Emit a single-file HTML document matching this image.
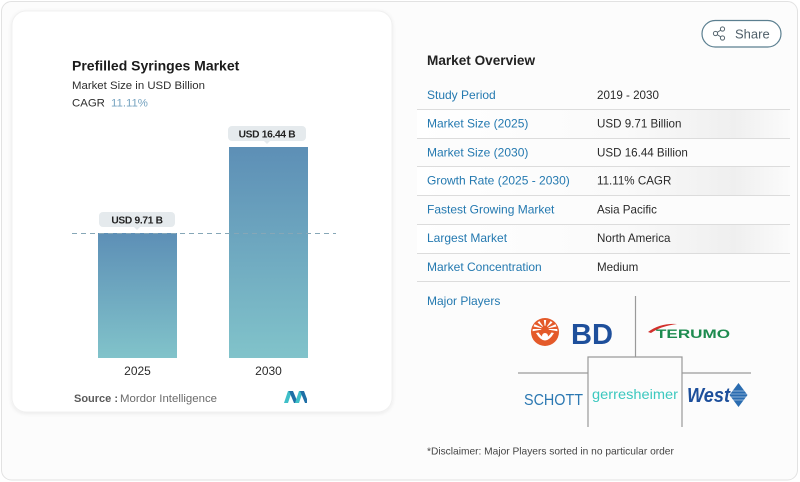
<!DOCTYPE html>
<html>
<head>
<meta charset="utf-8">
<style>
html,body{margin:0;padding:0;background:#fff;}
body{width:800px;height:482px;overflow:hidden;}
svg{display:block;font-family:"Liberation Sans",Arial,sans-serif;}
</style>
</head>
<body>
<svg width="800" height="482" viewBox="0 0 800 482" xmlns="http://www.w3.org/2000/svg">
  <defs>
    <linearGradient id="bar" x1="0" y1="0" x2="0" y2="1">
      <stop offset="0" stop-color="#5d8fb6"/>
      <stop offset="1" stop-color="#81c3ca"/>
    </linearGradient>
    <linearGradient id="rowsh" x1="417" y1="0" x2="790" y2="0" gradientUnits="userSpaceOnUse">
      <stop offset="0" stop-color="#ffffff"/>
      <stop offset="0.55" stop-color="#fafafa"/>
      <stop offset="0.85" stop-color="#efefef"/>
      <stop offset="1" stop-color="#fbfbfb"/>
    </linearGradient>
    <filter id="sh" x="-5%" y="-5%" width="110%" height="110%">
      <feGaussianBlur in="SourceAlpha" stdDeviation="2"/>
      <feOffset dy="1"/>
      <feComponentTransfer><feFuncA type="linear" slope="0.08"/></feComponentTransfer>
      <feMerge><feMergeNode/><feMergeNode in="SourceGraphic"/></feMerge>
    </filter>
  </defs>

  <!-- outer card -->
  <rect x="1.5" y="1.5" width="796" height="478.5" rx="10" fill="#fcfcfc" stroke="#e2e2e2" stroke-width="1"/>

  <!-- inner chart card -->
  <rect x="12" y="11" width="380" height="401" rx="14" fill="#ffffff" stroke="#f0f0f0" filter="url(#sh)"/>

  <!-- title -->
  <text x="72" y="70.5" font-size="14" font-weight="bold" fill="#1b1b1b">Prefilled Syringes Market</text>
  <text x="72" y="89" font-size="11.4" fill="#2e2e2e">Market Size in USD Billion</text>
  <text x="72" y="106.5" font-size="11.4" fill="#2e2e2e">CAGR <tspan x="111" fill="#76a3c0">11.11%</tspan></text>

  <!-- bars -->
  <rect x="98" y="233" width="79" height="125" fill="url(#bar)"/>
  <rect x="229" y="147" width="79" height="211" fill="url(#bar)"/>

  <!-- dashed line -->
  <line x1="72" y1="233.5" x2="336" y2="233.5" stroke="#86a7b7" stroke-width="1" stroke-dasharray="5,4"/>

  <!-- value pills -->
  <rect x="99" y="212" width="76" height="15" rx="4" fill="#e5eaed"/>
  <polygon points="134,227 140,227 137,230" fill="#e5eaed"/>
  <text x="137" y="223.5" font-size="10.2" font-weight="bold" fill="#222" text-anchor="middle" letter-spacing="-0.3">USD 9.71 B</text>

  <rect x="228" y="126" width="78" height="15" rx="4" fill="#e5eaed"/>
  <polygon points="264,141 270,141 267,144" fill="#e5eaed"/>
  <text x="267" y="137.5" font-size="10.2" font-weight="bold" fill="#222" text-anchor="middle" letter-spacing="-0.3">USD 16.44 B</text>

  <!-- years -->
  <text x="137.5" y="375" font-size="12" fill="#2b2b2b" text-anchor="middle">2025</text>
  <text x="268.5" y="375" font-size="12" fill="#2b2b2b" text-anchor="middle">2030</text>

  <!-- source -->
  <text x="74" y="402" font-size="11" font-weight="bold" fill="#5a5a5a">Source :</text>
  <text x="120" y="402" font-size="11" fill="#6a6a6a" textLength="97" lengthAdjust="spacingAndGlyphs">Mordor Intelligence</text>
  <!-- mordor logo -->
  <polygon points="284,403 288,391 292,391 288,403" fill="#3fbfc8"/>
  <polygon points="289,391 293,391 298,403 294,403" fill="#1f6fa6"/>
  <polygon points="295,403 299,391 303,391 299,403" fill="#3fbfc8"/>
  <polygon points="300,391 304,391 307,399 307,403 305,403" fill="#1f6fa6"/>

  <!-- share button -->
  <rect x="702" y="20.5" width="79" height="26.5" rx="13.25" fill="#fff" stroke="#5b7f90" stroke-width="1.2"/>
  <g stroke="#56666f" stroke-width="1" fill="#fff">
    <line x1="715.5" y1="33.5" x2="722.5" y2="29"/>
    <line x1="715.5" y1="33.5" x2="722.5" y2="38"/>
    <circle cx="715.5" cy="33.5" r="2.1"/>
    <circle cx="722.5" cy="29" r="2.1"/>
    <circle cx="722.5" cy="38" r="2.1"/>
  </g>
  <text x="735" y="38.5" font-size="13" fill="#4f5f69">Share</text>

  <!-- market overview -->
  <text x="427" y="65" font-size="13.6" font-weight="bold" fill="#222">Market Overview</text>

  <!-- shaded rows -->
  <rect x="417" y="110" width="373" height="28" fill="url(#rowsh)"/>
  <rect x="417" y="167" width="373" height="28" fill="url(#rowsh)"/>
  <rect x="417" y="225" width="373" height="28" fill="url(#rowsh)"/>

  <g stroke="#dcdcdc" stroke-width="1">
    <line x1="417" y1="109.5" x2="790" y2="109.5"/>
    <line x1="417" y1="138.5" x2="790" y2="138.5"/>
    <line x1="417" y1="166.5" x2="790" y2="166.5"/>
    <line x1="417" y1="195.5" x2="790" y2="195.5"/>
    <line x1="417" y1="224.5" x2="790" y2="224.5"/>
    <line x1="417" y1="253.5" x2="790" y2="253.5"/>
    <line x1="417" y1="281.5" x2="790" y2="281.5"/>
  </g>

  <g font-size="12" fill="#2479b0">
    <text x="427" y="99">Study Period</text>
    <text x="427" y="127.5">Market Size (2025)</text>
    <text x="427" y="156.5">Market Size (2030)</text>
    <text x="427" y="184.5">Growth Rate (2025 - 2030)</text>
    <text x="427" y="213.5">Fastest Growing Market</text>
    <text x="427" y="242">Largest Market</text>
    <text x="427" y="271">Market Concentration</text>
  </g>
  <g font-size="11.6" fill="#2a2a2a">
    <text x="597" y="99">2019 - 2030</text>
    <text x="597" y="127.5">USD 9.71 Billion</text>
    <text x="597" y="156.5">USD 16.44 Billion</text>
    <text x="597" y="184.5">11.11% CAGR</text>
    <text x="597" y="213.5">Asia Pacific</text>
    <text x="597" y="242">North America</text>
    <text x="597" y="271">Medium</text>
  </g>

  <!-- major players -->
  <text x="427" y="305" font-size="12" fill="#2479b0">Major Players</text>

  <!-- logo grid lines -->
  <g stroke="#9a9a9a" stroke-width="1.2" fill="none">
    <line x1="635.5" y1="296" x2="635.5" y2="357"/>
    <line x1="518" y1="373" x2="588" y2="373"/>
    <line x1="682" y1="373" x2="751" y2="373"/>
    <path d="M588,427 V357 H682 V427"/>
  </g>

  <!-- BD logo -->
  <circle cx="545" cy="332" r="14" fill="#e45a2a"/>
  <g fill="#fff">
    <polygon points="545,329 543.8,320 546.2,320"/>
    <polygon points="545,329 537.5,322.5 539.3,321"/>
    <polygon points="545,329 550.7,321 552.5,322.5"/>
    <polygon points="545,329 533.5,326.5 534.5,324.3"/>
    <polygon points="545,329 555.5,324.3 556.5,326.5"/>
    <polygon points="545,329 532.5,331.2 532.8,329"/>
    <polygon points="545,329 557.2,329 557.5,331.2"/>
  </g>
  <circle cx="545" cy="329.5" r="3.8" fill="#e45a2a"/>
  <circle cx="545" cy="336" r="3" fill="#fff"/>
  <path d="M536,333 Q545,348 554,333 L551.5,332.5 Q545,342.5 538.5,332.5 Z" fill="#fff"/>
  <text x="571" y="344" font-size="29" font-weight="bold" fill="#1e4f9b" textLength="42" lengthAdjust="spacingAndGlyphs">BD</text>

  <!-- Terumo -->
  <path d="M648,332 Q660,323 677,324 Q661,326 651,333 Z" fill="#d2302c"/>
  <text x="656" y="338" font-size="12" font-weight="bold" fill="#1d8b4f" textLength="74" lengthAdjust="spacingAndGlyphs">TERUMO</text>

  <!-- Schott -->
  <text x="524" y="405" font-size="16" fill="#2b78b2" textLength="59" lengthAdjust="spacingAndGlyphs">SCHOTT</text>

  <!-- Gerresheimer -->
  <text x="592" y="399" font-size="14" fill="#3cc8bf" textLength="86" lengthAdjust="spacingAndGlyphs">gerresheimer</text>

  <!-- West -->
  <text x="687" y="402" font-size="20" font-weight="bold" font-style="italic" fill="#1d4f9b" textLength="43" lengthAdjust="spacingAndGlyphs">West</text>
  <polygon points="738.5,383 747.5,395 738.5,407 729.5,395" fill="#2a6cb0"/>
  <g stroke="#cfe0f0" stroke-width="0.6">
    <line x1="732" y1="391" x2="745" y2="391"/>
    <line x1="730.5" y1="394" x2="747" y2="394"/>
    <line x1="731" y1="397" x2="746" y2="397"/>
    <line x1="733" y1="400" x2="744" y2="400"/>
  </g>

  <!-- disclaimer -->
  <text x="427" y="454.5" font-size="10.2" fill="#444">*Disclaimer: Major Players sorted in no particular order</text>
</svg>
</body>
</html>
